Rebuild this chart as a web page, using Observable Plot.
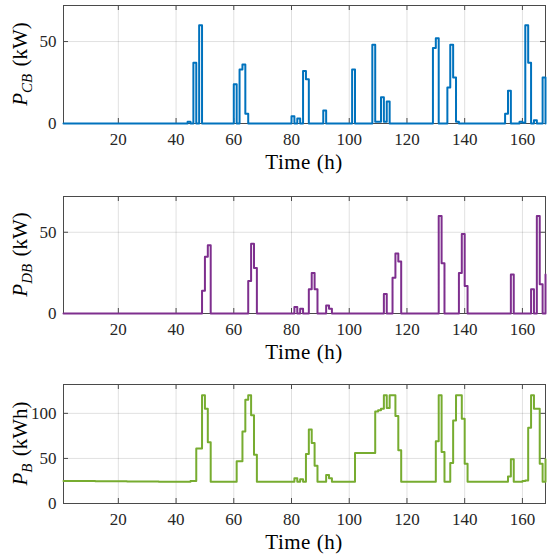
<!DOCTYPE html>
<html>
<head>
<meta charset="utf-8">
<script src="https://cdn.jsdelivr.net/npm/d3@7"></script>
<script src="https://cdn.jsdelivr.net/npm/@observablehq/plot@0.6"></script>
<style>
  html, body { margin: 0; padding: 0; background: #fff; }
  #chart { width: 550px; }
  #chart svg { display: block; }
</style>
</head>
<body>
<div id="chart"></div>
<script>
// ---- Data (hour at which a new value starts, value held until next hour listed) ----
const xTicks = [20, 40, 60, 80, 100, 120, 140, 160];

// Battery charging power P_CB (kW)
const cbHours = [1,44,45,46,47,48,49,60,61,62,63,64,65,80,81,82,83,84,85,86,91,92,101,102,108,109,111,112,113,114,129,130,131,134,135,136,137,138,154,155,156,159,160,161,162,163,164,165,167,168];
const cbValues = [0,1,0,37,0,60,0,24,0,33,36,6,0,4.5,0,3,0,32,27,0,8,0,33,0,48,1,16,1,13.5,0,46,52,0,22,48,28,1,0,6,20,0,1,0.5,60,37,0,2,0,28,0];

// Battery discharging power P_DB (kW)
const dbHours = [1,49,50,51,52,65,66,67,68,81,82,83,84,86,87,88,89,92,93,94,112,113,115,116,117,118,131,132,133,138,139,140,141,156,157,163,164,165,166,167,168];
const dbValues = [0,14,35,42,0,20,43,28,0,4,0,3,0,15,25,15,0,5,3,0,12,0,22,37,32,0,60,31,0,25,49,17,0,24,0,15,0,60,18,0,24];

// Battery energy P_B (kWh)
const bHours = [1,12,23,34,45,47,49,50,51,52,61,63,64,65,66,67,68,81,82,83,84,85,86,87,88,89,92,93,94,102,109,110,111,112,113,114,116,117,118,130,131,132,133,135,136,137,139,140,141,155,156,157,160,161,162,163,164,166,167,168];
const bValues = [24.9,24.7,24.4,24.1,25,61,120,105,68,24,47,80,115,120,98,54,24,28,24,27,24,55,82,67,42,24,31.5,28,24,56,102,103.5,105,120,106,120,97,59,24,69,120,57,24,45,92,120,94,44,24,30,49,24,25,25.5,84,120,105,44,24,49];

const panels = [
  {hours: cbHours, values: cbValues, color: "#0072BD", yMax: 72, yTicks: [0, 50], mt: 5, mb: 63, sub: "CB", unit: " (kW)"},
  {hours: dbHours, values: dbValues, color: "#7E2F8E", yMax: 72, yTicks: [0, 50], mt: 10, mb: 59, sub: "DB", unit: " (kW)"},
  {hours: bHours, values: bValues, color: "#77AC30", yMax: 132, yTicks: [0, 50, 100], mt: 12, mb: 55, sub: "B", unit: " (kWh)"}
];

const W = 550, H = 186, ML = 63, MR = 5;
const axisColor = "#4a4a4a";
const font = "'Liberation Serif', 'Times New Roman', serif";

for (const p of panels) {
  const data = p.hours.map((h, i) => ({h, v: p.values[i]}));
  const plotH = H - p.mt - p.mb;
  const plotW = W - ML - MR;
  const chart = Plot.plot({
    width: W, height: H,
    marginLeft: ML, marginRight: MR, marginTop: p.mt, marginBottom: p.mb,
    style: {fontFamily: font, fontSize: "17px", color: "#262626", background: "#fff", overflow: "visible"},
    x: {domain: [1, 168], ticks: xTicks, tickSize: 0, tickPadding: 9, tickFormat: d => String(d), label: null},
    y: {domain: [0, p.yMax], ticks: p.yTicks, tickSize: 0, tickPadding: 7, tickFormat: d => String(d), label: null},
    marks: [
      Plot.ruleX(xTicks, {x: d => d, stroke: "#000", strokeOpacity: 0.12, strokeWidth: 1}),
      Plot.ruleY(p.yTicks.filter(d => d > 0), {y: d => d, stroke: "#000", strokeOpacity: 0.12, strokeWidth: 1}),
      Plot.frame({stroke: axisColor, strokeWidth: 1}),
      // inward tick marks on all four sides
      Plot.ruleX(xTicks, {x: d => d, stroke: axisColor, insetTop: plotH - 5}),
      Plot.ruleX(xTicks, {x: d => d, stroke: axisColor, insetBottom: plotH - 5}),
      Plot.ruleY(p.yTicks, {y: d => d, stroke: axisColor, insetRight: plotW - 5}),
      Plot.ruleY(p.yTicks, {y: d => d, stroke: axisColor, insetLeft: plotW - 5}),
      Plot.line(data, {x: "h", y: "v", curve: "step-after", stroke: p.color, strokeWidth: 2})
    ]
  });
  const svg = d3.select(chart);
  // y-axis label with italic P and subscript
  const yc = (p.mt + (H - p.mb)) / 2;
  const t = svg.append("text")
    .attr("transform", `translate(27,${yc}) rotate(-90)`)
    .attr("text-anchor", "middle")
    .attr("font-family", font)
    .attr("font-size", 21)
    .attr("fill", "#000");
  t.append("tspan").attr("font-style", "italic").text("P");
  t.append("tspan").attr("font-style", "italic").attr("font-size", 15).attr("dy", 5).text(p.sub);
  t.append("tspan").attr("dy", -5).attr("dx", 2).text(p.unit);
  // x-axis label
  svg.append("text")
    .attr("x", ML + plotW / 2)
    .attr("y", H - p.mb + 46)
    .attr("text-anchor", "middle")
    .attr("font-family", font)
    .attr("font-size", 21)
    .attr("letter-spacing", 0.5)
    .attr("fill", "#000")
    .text("Time (h)");
  document.getElementById("chart").appendChild(chart);
}
</script>
</body>
</html>
